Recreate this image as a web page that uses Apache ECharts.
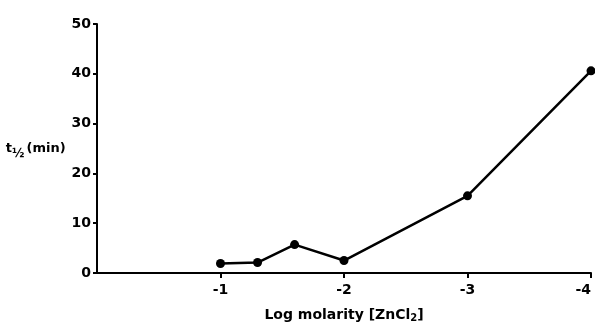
<!DOCTYPE html>
<html>
<head>
<meta charset="utf-8">
<script src="https://cdn.jsdelivr.net/npm/echarts@6/dist/echarts.min.js"></script>
<style>
  html, body { margin: 0; padding: 0; background: #fff; }
  #chart { width: 595px; height: 326px; }
</style>
</head>
<body>
<div id="chart"></div>
<script>
// log molarity of ZnCl2 and half-time in minutes
const logMolarity = [-1, -1.3, -1.6, -2, -3, -4];
const halfTime = [1.9, 2.1, 5.7, 2.5, 15.5, 40.6];
const xTicks = [-1, -2, -3, -4];

const chart = echarts.init(document.getElementById('chart'));
const font = 'DejaVu Sans';

chart.setOption({
  animation: false,
  grid: { left: 97, right: 4, top: 24, bottom: 53, containLabel: false, outerBoundsMode: 'none' },
  xAxis: {
    type: 'value',
    inverse: true,
    min: -4,
    max: 0,
    interval: 1,
    name: 'Log molarity [ZnCl{sub|2}]',
    nameLocation: 'middle',
    nameGap: 34,
    nameTextStyle: {
      fontFamily: font, fontWeight: 'bold', fontSize: 14, color: '#000',
      rich: { sub: { fontFamily: font, fontWeight: 'bold', fontSize: 10, verticalAlign: 'bottom', padding: [6, 0, 0, 0] } },
    },
    axisLine: { lineStyle: { color: '#000', width: 2 } },
    axisTick: {
      show: true, length: 5, lineStyle: { color: '#000', width: 2 },
      customValues: xTicks,
    },
    axisLabel: {
      fontFamily: font, fontWeight: 'bold', fontSize: 14, color: '#000', margin: 10,
      customValues: xTicks,
      alignMaxLabel: 'right',
    },
    splitLine: { show: false },
  },
  yAxis: {
    type: 'value',
    min: 0,
    max: 50,
    interval: 10,
    name: '{t|t}{f|½}{m|(min)}',
    nameLocation: 'middle',
    nameRotate: 0,
    nameGap: 30,
    nameTextStyle: {
      color: '#000',
      align: 'right',
      rich: {
        t: { fontFamily: font, fontWeight: 'bold', fontSize: 13 },
        f: { fontFamily: font, fontWeight: 'bold', fontSize: 12, verticalAlign: 'top', padding: [10, 2, 0, 0] },
        m: { fontFamily: font, fontWeight: 'bold', fontSize: 13 },
      },
    },
    axisLine: { show: true, lineStyle: { color: '#000', width: 2 } },
    axisTick: { show: true, length: 4, lineStyle: { color: '#000', width: 2 } },
    axisLabel: { fontFamily: font, fontWeight: 'bold', fontSize: 14, color: '#000', margin: 6 },
    splitLine: { show: false },
  },
  series: [{
    type: 'line',
    data: logMolarity.map((x, i) => [x, halfTime[i]]),
    symbol: 'circle',
    symbolSize: 9,
    itemStyle: { color: '#000' },
    lineStyle: { color: '#000', width: 2.5 },
  }],
});
</script>
</body>
</html>
